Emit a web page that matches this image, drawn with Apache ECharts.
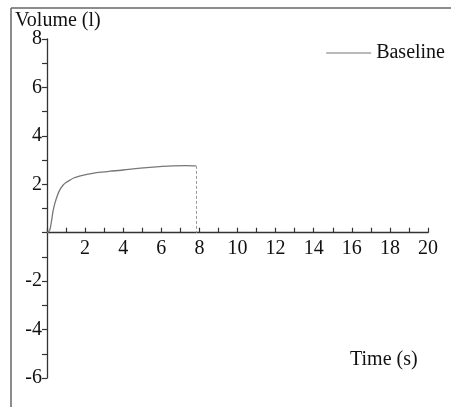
<!DOCTYPE html>
<html><head><meta charset="utf-8">
<script src="https://cdn.jsdelivr.net/npm/echarts@6/dist/echarts.min.js"></script>
<style>html,body{margin:0;padding:0;background:#fff}#c{width:451px;height:407px}</style>
</head><body><div id="c"></div>
<script>
const timeS = [0, 0.08, 0.16, 0.25, 0.32, 0.42, 0.55, 0.68, 0.85, 1.0, 1.2, 1.4, 1.7, 2.1, 2.6, 3.3, 3.9, 4.4, 5.4, 6.6, 7.3, 7.82];
const volL  = [0, 0.04, 0.15, 0.55, 0.9, 1.23, 1.55, 1.78, 1.97, 2.07, 2.17, 2.26, 2.34, 2.41, 2.48, 2.54, 2.58, 2.63, 2.70, 2.76, 2.77, 2.76];
const xTicks = [0, 20, 2];
const yTicks = [-6, 8, 2];
const seriesName = 'Baseline';
const font = 'Liberation Serif';
const data = timeS.map((t, i) => [t, volL[i]]);
const last = data[data.length - 1];
const H = 407, gridTop = 39, gridBottom = 29;
const gridH = H - gridTop - gridBottom;
const zeroOffset = -gridH * (0 - yTicks[0]) / (yTicks[1] - yTicks[0]);
const chart = echarts.init(document.getElementById('c'));
chart.setOption({
  animation: false,
  grid: {left: 47, right: 23, top: gridTop, bottom: gridBottom, containLabel: false},
  legend: {
    show: true, right: 1, top: 38, itemWidth: 45, itemHeight: 1, itemGap: 10,
    icon: 'rect',
    data: [seriesName],
    textStyle: {fontFamily: font, fontSize: 20, color: '#111', padding: [0, 0, 0, 0]}
  },
  graphic: [
    {type: 'line', shape: {x1: 11, y1: 8, x2: 451, y2: 8}, style: {stroke: '#666', lineWidth: 1.5}},
    {type: 'line', shape: {x1: 11, y1: 8, x2: 11, y2: 407}, style: {stroke: '#666', lineWidth: 1.5}},
    {type: 'text', left: 15, top: 11, style: {text: 'Volume (l)', font: '20px "Liberation Serif"', fill: '#111'}},
    {type: 'text', left: 350, top: 350, style: {text: 'Time (s)', font: '20px "Liberation Serif"', fill: '#111'}}
  ],
  xAxis: {
    type: 'value', min: xTicks[0], max: xTicks[1], interval: xTicks[2],
    offset: zeroOffset,
    axisLine: {onZero: false, lineStyle: {color: '#333', width: 1.3}},
    axisTick: {inside: true, length: 5, lineStyle: {color: '#333', width: 1.2}},
    minorTick: {show: true, splitNumber: 2, length: 5, lineStyle: {color: '#333', width: 1.2}},
    splitLine: {show: false},
    axisLabel: {margin: 6, fontFamily: font, fontSize: 20, color: '#111', formatter: v => v === 0 ? '' : String(v)}
  },
  yAxis: {
    type: 'value', min: yTicks[0], max: yTicks[1], interval: yTicks[2],
    axisLine: {show: true, lineStyle: {color: '#333', width: 1.3}},
    axisTick: {show: true, inside: false, length: 5, lineStyle: {color: '#333', width: 1.2}},
    minorTick: {show: true, splitNumber: 2, length: 5, lineStyle: {color: '#333', width: 1.2}},
    splitLine: {show: false},
    axisLabel: {margin: 5, fontFamily: font, fontSize: 20, color: '#111', formatter: v => v === 0 ? '' : String(v)}
  },
  series: [{
    name: seriesName, type: 'line', data: data, smooth: 0.3, symbol: 'none',
    lineStyle: {color: '#777', width: 1.3},
    itemStyle: {color: '#777'},
    markLine: {
      silent: true, symbol: 'none', label: {show: false},
      lineStyle: {color: '#999', type: [3, 2], width: 1},
      data: [[{coord: [last[0], last[1]]}, {coord: [last[0], 0]}]]
    }
  }]
});
</script></body></html>
